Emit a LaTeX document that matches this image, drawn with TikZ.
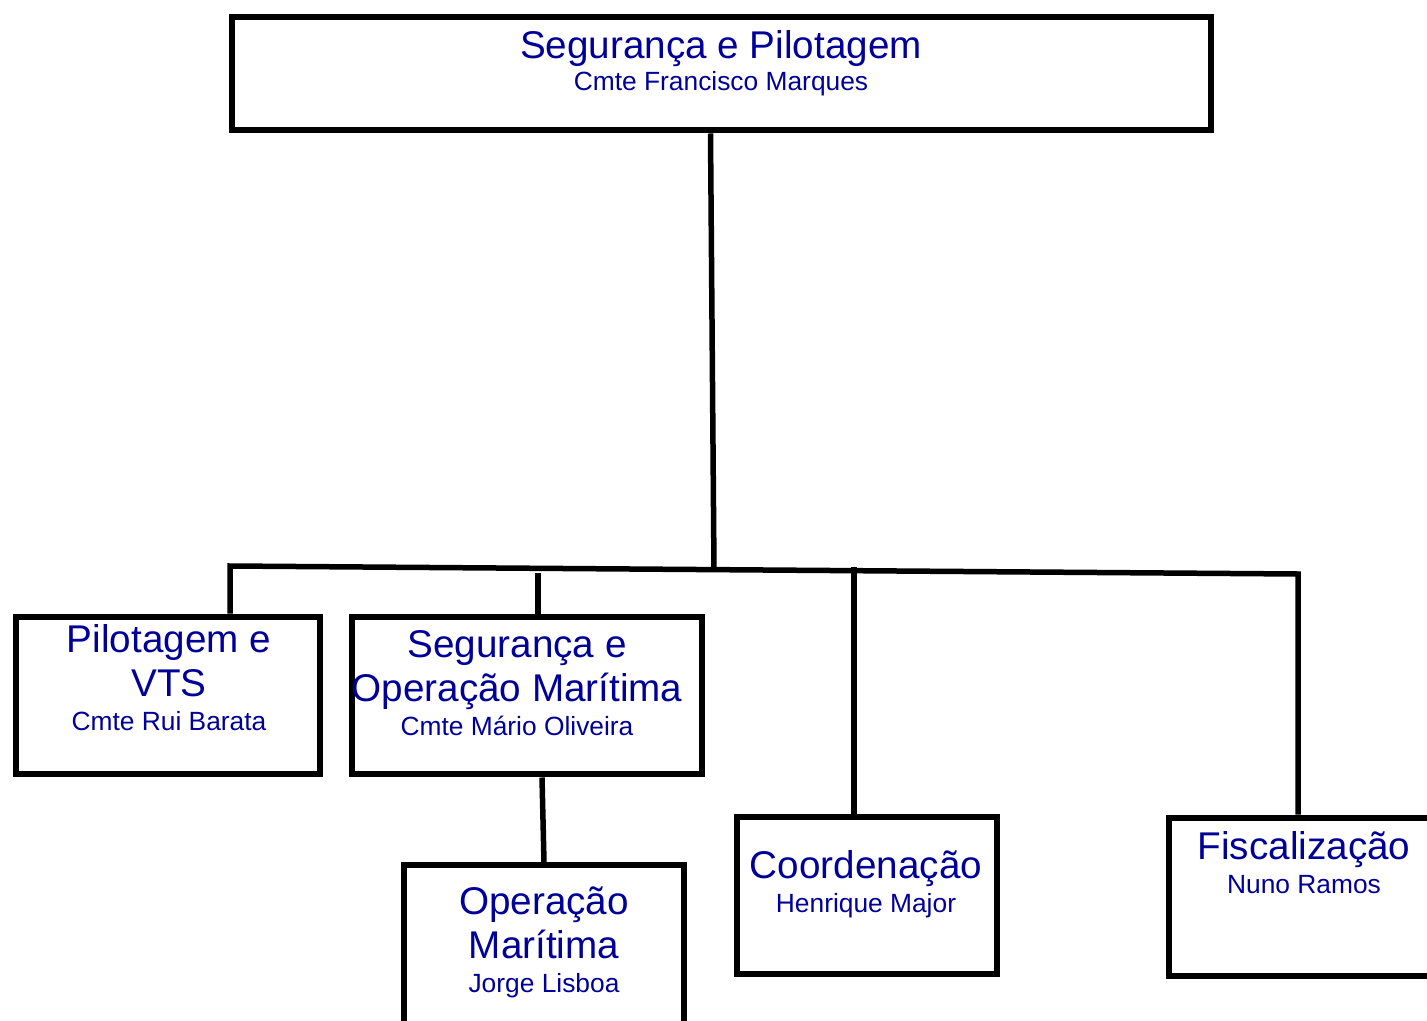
\documentclass[tikz,border=0pt]{standalone}
\usepackage{fontspec}
\setmainfont{Liberation Sans}
\usepackage{xcolor}
\usepackage{tikz}
\usetikzlibrary{positioning}
\definecolor{orgblue}{RGB}{0,0,153}
\tikzstyle{unit} = [draw,line width=0.12cm,inner sep=0pt]
\tikzstyle{link} = [line width=0.11cm]
\tikzstyle{lbl} = [text=orgblue,align=center,anchor=base,inner sep=0pt,font=\fontsize{22}{25}\selectfont]
\newcommand{\who}[1]{{\fontsize{15}{18}\selectfont #1}}

\begin{document}
\begin{tikzpicture}[x=0.02cm,y=-0.02cm]
				\useasboundingbox (0,0) rectangle (1427,1021);
				% Boxes:
				% Fixed sizes, the names go on top in the text nodes below
				\node[unit,minimum width=19.6cm,minimum height=2.28cm] (top) at (721.5,73.5) {};
				\node[unit,minimum width=6.1cm,minimum height=3.16cm] (vts) at (168,695.5) {};
				\node[unit,minimum width=7.02cm,minimum height=3.16cm] (segop) at (527,695.5) {};
				\node[unit,minimum width=5.62cm,minimum height=3.51cm] (opmar) at (544,953) {};
				\node[unit,minimum width=5.22cm,minimum height=3.16cm] (coord) at (867,895.5) {};
				\node[unit,minimum width=5.45cm,minimum height=3.18cm] (fisc) at (1304.75,897) {};
				
				% Texts:
				% Placed at the baseline of the last (name) line
				\node[lbl] (top-t) at (721,90) {Segurança e Pilotagem\\[-7pt]\who{Cmte Francisco Marques}};
				\node[lbl] (vts-t) at (169,730) {Pilotagem e\\VTS\\[-6pt]\who{Cmte Rui Barata}};
				\node[lbl] (segop-t) at (517,735) {Segurança e\\Operação Marítima\\[-6pt]\who{Cmte Mário Oliveira}};
				\node[lbl] (opmar-t) at (544,992) {Operação\\Marítima\\[-6pt]\who{Jorge Lisboa}};
				\node[lbl] (coord-t) at (866,912) {Coordenação\\[-6pt]\who{Henrique Major}};
				\node[lbl] (fisc-t) at (1304,893) {Fiscalização\\[-6pt]\who{Nuno Ramos}};
				
				% Connectors:
				\coordinate (busL) at (230,566);
				\coordinate (busR) at (1298,574);
				\coordinate (hub) at (714,570);
				\coordinate (segdrop) at (538,573);
				\coordinate (coorddrop) at (854,567);
				\draw[link] ([xshift=-0.22cm]top.south) -- (hub);
				\draw[link] (busL |- vts.north) -- (busL) -- (busR) -- (busR |- fisc.north);
				\draw[link] (segdrop) -- (segdrop |- segop.north);
				\draw[link] (coorddrop) -- (coorddrop |- coord.north);
				\draw[link] ([xshift=0.3cm]segop.south) -- (opmar.north);
\end{tikzpicture}
\end{document}
